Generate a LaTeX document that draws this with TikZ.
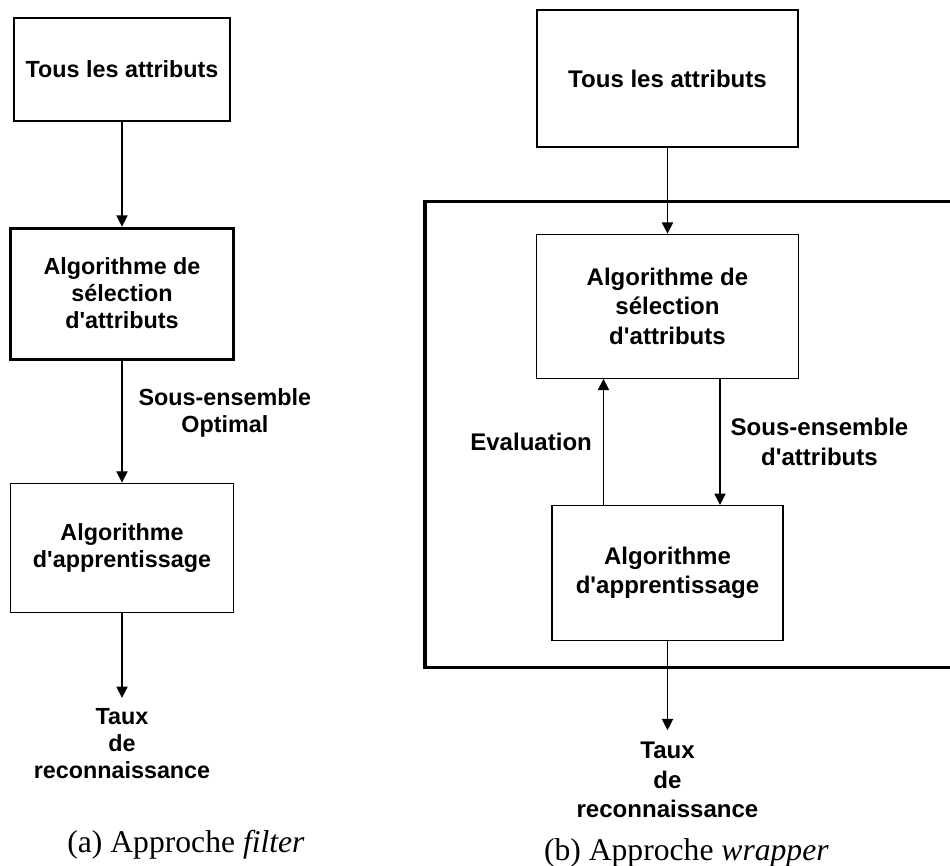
\documentclass[tikz,border=0pt]{standalone}
\usepackage{fontspec}
\setmainfont{Liberation Serif}
\setsansfont[Ligatures=TeXOff]{Liberation Sans}
\usepackage{tikz}
\usetikzlibrary{arrows.meta,positioning}

\begin{document}
\begin{tikzpicture}[
    node distance=2.5cm,
    box/.style={rectangle, draw, line width=0.9pt, inner sep=0pt, align=center, font=\sffamily\bfseries\fontsize{16.6}{19.2}\selectfont},
    wbox/.style={box, font=\sffamily\bfseries\fontsize{17.1}{20.8}\selectfont},
    txt/.style={inner sep=0pt, align=center, font=\sffamily\bfseries\fontsize{16.6}{19.2}\selectfont},
    wtxt/.style={txt, font=\sffamily\bfseries\fontsize{17.1}{20.8}\selectfont},
    frame/.style={line width=2.6pt},
    caption/.style={anchor=base, font=\fontsize{22.5}{27}\selectfont},
    arrow/.style={-{Triangle[length=8pt,width=8pt]}, line width=0.9pt}
]
\useasboundingbox (0,0) rectangle (23.75,-21.65);

\node[box, minimum width=5.4cm, minimum height=2.575cm] (a1) at (3.05,-1.7375) {Tous les attributs};
\node[box, line width=2.1pt, minimum width=5.575cm, minimum height=3.275cm, below=2.625cm of a1] (a2) {Algorithme de\\sélection\\d'attributs};
\node[box, minimum width=5.575cm, minimum height=3.225cm, below=3.05cm of a2] (a3) {Algorithme\\d'apprentissage};
\node[txt, inner sep=0.25cm, below=2.125cm of a3] (tauxa) {Taux\\de\\reconnaissance};

\draw[arrow] (a1) -- (a2);
\draw[arrow] (a2) -- node[txt, right=0.4cm, yshift=0.225cm] (optlbl) {Sous-ensemble\\Optimal} (a3);
\draw[arrow] (a3) -- (tauxa);

\node[wbox, minimum width=6.525cm, minimum height=3.425cm] (b1) at (16.6875,-1.9625) {Tous les attributs};
\node[wbox, minimum width=6.55cm, minimum height=3.6cm, below=2.15cm of b1] (b2) {Algorithme de\\sélection\\d'attributs};
\node[wbox, minimum width=5.775cm, minimum height=3.375cm, below=3.15cm of b2] (b3) {Algorithme\\d'apprentissage};
\node[wtxt, inner sep=0.3cm, below=2.225cm of b3] (tauxb) {Taux\\de\\reconnaissance};

\draw[frame] (23.8,-5.04) -| (10.625,-16.69) -- (23.8,-16.69);

\draw[arrow] (b1) -- (b2);
\draw[arrow] ([xshift=-1.6cm]b3.north) -- node[wtxt, left=0.275cm] (evallbl) {Evaluation} ([xshift=-1.6cm]b2.south);
\draw[arrow] ([xshift=1.3125cm]b2.south) -- node[wtxt, right=0.25cm] (sublbl) {Sous-ensemble\\d'attributs} ([xshift=1.3125cm]b3.north);
\draw[arrow] (b3) -- (tauxb);

\node[caption] (capa) at (4.65,-21.3) {(a) Approche \textit{filter}};
\node[caption] (capb) at (17.16,-21.5) {(b) Approche \textit{wrapper}};
\end{tikzpicture}
\end{document}
